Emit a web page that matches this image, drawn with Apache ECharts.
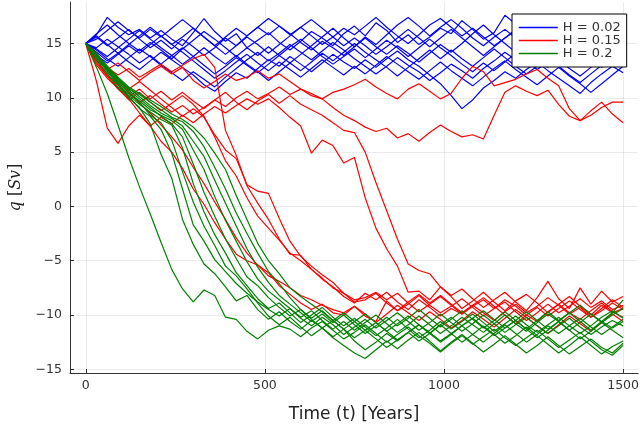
<!DOCTYPE html>
<html><head><meta charset="utf-8">
<script src="https://cdn.jsdelivr.net/npm/echarts@6/dist/echarts.min.js"></script>
<style>html,body{margin:0;padding:0;background:#fff}#c{width:642px;height:428px}</style>
</head><body><div id="c"></div>
<script>
const years = [0,30,60,90,120,150,180,210,240,270,300,330,360,390,420,450,480,510,540,570,600,630,660,690,720,750,780,810,840,870,900,930,960,990,1020,1050,1080,1110,1140,1170,1200,1230,1260,1290,1320,1350,1380,1410,1440,1470,1500];
const xTicks = [0,500,1000,1500];
const yTicks = [-15,-10,-5,0,5,10,15];
const seriesNames = ['H = 0.02','H = 0.15','H = 0.2'];

const blueRuns = [
 [15,15.8,17.4,16.5,15.8,16.3,15.5,16.2,15.4,14.8, 16.0,17.3,16.1,15.2,15.9,14.6,15.3,16.0,15.1,14.4, 15.2,16.1,15.5,14.8,15.9,16.6,15.7,16.9,16.2,15.1, 15.8,14.9,15.6,16.4,15.9,17.1,16.3,15.4,16.0,17.6, 16.8,15.9,16.5,15.6,14.8,15.5,16.2,15.3,14.7,15.4, 15.9],
 [15,14.2,13.4,14.1,13.3,12.6,13.4,14.2,13.5,12.8, 12.1,11.2,10.6,11.5,12.3,11.8,12.7,13.5,12.9,13.8, 13.1,12.4,13.2,14.0,13.3,12.7,13.5,12.8,13.6,14.3, 13.5,12.9,12.1,11.3,10.2,9.0,9.8,10.9,11.6,12.4, 11.8,12.6,13.3,12.5,11.8,11.1,10.4,11.4,12.2,12.9, 12.3],
 [15,15.6,14.8,15.5,16.3,15.4,14.6,15.3,14.5,15.4, 14.7,13.9,14.6,15.5,14.8,15.7,16.5,15.8,16.6,15.9, 15.1,14.4,15.2,14.6,13.9,14.7,15.6,14.9,15.8,16.7, 17.4,16.6,15.7,16.5,17.2,16.4,15.5,14.8,15.6,16.3, 15.5,14.7,15.4,14.6,15.3,14.5,13.8,14.6,15.5,14.9, 14.2],
 [15,14.4,13.6,12.9,13.7,14.5,13.8,13.0,12.3,11.6, 12.4,11.7,11.0,11.9,12.7,13.5,14.2,13.4,14.1,14.9, 14.2,13.5,14.3,15.1,14.4,13.6,12.9,12.2,12.9,13.7, 13.0,12.4,11.6,12.3,13.1,12.5,11.8,12.7,13.4,14.2, 13.5,14.3,13.6,12.8,13.5,12.7,12.0,12.8,13.6,12.9, 13.5],
 [15,15.9,16.7,15.8,15.0,14.3,15.1,14.4,13.6,14.5, 15.3,16.1,15.4,14.6,13.8,14.6,13.9,14.7,13.9,13.2, 14.0,14.8,15.6,16.4,15.5,14.7,15.5,14.7,14.0,14.8, 14.1,13.3,14.1,14.9,14.2,15.0,15.9,16.7,15.8,15.0, 14.2,14.9,15.7,16.5,15.7,14.9,15.6,16.4,15.6,14.8, 15.4],
 [15,14.6,15.4,14.7,14.0,13.2,13.9,13.1,13.9,14.6, 13.8,13.0,12.2,12.9,13.7,13.0,12.3,13.1,13.9,14.7, 15.4,14.6,13.8,13.1,13.8,14.5,13.7,14.5,15.3,14.6, 13.8,14.6,15.4,14.6,13.9,13.1,12.4,13.2,12.5,13.3, 14.1,13.4,12.6,13.3,14.1,13.4,14.2,13.5,12.8,13.6, 14.3],
 [15,15.4,16.2,17.0,16.2,15.5,16.3,15.6,16.4,17.2, 16.4,15.6,14.8,15.6,16.4,15.7,16.5,17.3,16.6,15.8, 16.5,15.7,14.9,15.6,16.4,15.8,16.6,17.4,16.5,15.7, 15.0,15.8,16.7,17.3,16.5,15.7,16.4,15.6,14.8,15.5, 16.3,17.1,16.3,15.4,16.2,17.0,16.2,15.5,16.2,15.5, 14.8],
 [15,13.9,13.2,14.0,14.8,14.1,14.9,15.7,14.9,14.2, 13.4,12.6,11.8,12.5,13.3,14.0,13.2,12.5,13.3,12.6, 11.9,12.7,13.5,12.8,12.1,12.9,12.2,13.0,13.8,13.1, 12.4,11.7,12.5,13.3,12.5,11.8,11.1,11.9,12.7,13.4, 12.6,11.9,11.2,12.0,12.8,12.0,11.3,10.5,11.3,12.1, 12.9],
 [15,15.7,14.9,14.1,14.9,15.7,16.5,15.7,14.9,15.6, 16.4,15.6,14.8,14.0,14.8,15.6,14.9,14.1,14.9,15.7, 16.5,17.2,16.4,15.6,14.8,15.5,14.8,14.0,14.7,15.5, 16.3,15.5,14.7,15.5,16.3,15.5,14.7,13.9,14.7,15.5, 16.2,15.4,14.6,15.4,14.6,13.9,14.6,15.4,14.6,13.8, 14.6],
 [15,14.5,13.8,14.6,15.4,16.2,15.4,14.6,13.9,13.1, 13.8,14.6,13.8,13.1,13.9,13.1,12.4,11.6,12.4,13.2, 12.5,13.3,14.1,13.4,14.2,15.0,14.2,13.5,12.8,12.0, 12.8,13.6,14.4,13.6,14.4,13.6,12.9,13.7,14.5,13.7, 12.9,12.2,12.9,13.7,12.9,12.1,11.4,12.2,13.0,14.9, 16.0]
];

const redRuns = [
 [15,13.8,12.6,13.2,12.4,11.6,12.3,12.9,12.2,12.8, 11.6,10.9,11.5,12.2,11.6,11.9,12.5,11.8,12.2,11.5, 10.8,10.4,9.9,10.5,10.8,11.2,11.7,11.0,10.4,9.9, 10.8,11.3,10.6,9.9,10.4,11.8,12.9,12.4,11.1,11.4, 11.7,12.2,12.6,11.8,11.1,9.0,7.9,8.4,9.1,9.6, 9.6],
 [15,13.5,12.2,11.0,10.4,9.6,10.2,9.4,8.7,9.3, 8.5,9.1,9.8,9.2,10.0,10.6,9.9,10.4,11.0,10.3, 10.8,10.2,9.9,9.1,8.4,7.9,7.3,6.9,7.2,6.3, 6.7,6.0,6.8,7.5,6.9,6.4,6.6,6.2,8.4,10.5, 11.1,10.6,10.2,10.7,9.4,8.3,7.9,8.8,9.6,8.5, 7.7],
 [15,11.5,7.2,5.8,7.4,8.4,7.4,8.2,7.6,8.4, 7.7,8.5,9.2,8.6,9.3,9.9,9.4,9.9,9.1,8.2, 7.4,4.9,6.1,5.6,4.0,4.5,0.8,-2.0,-3.9,-5.5, -7.9,-7.8,-8.6,-7.4,-8.3,-9.4,-8.7,-7.9,-8.8,-9.6, -8.7,-8.1,-8.9,-9.8,-9.0,-8.3,-9.2,-10.0,-9.1,-9.8, -9.4],
 [15,13.2,12.0,11.3,10.1,10.8,9.9,10.6,9.8,10.5, 9.7,9.0,9.8,10.5,9.6,8.9,9.7,10.3,9.5,10.2, 9.4,8.9,8.4,7.7,7.0,6.8,5.0,2.2,-0.4,-3.0, -5.3,-5.9,-6.2,-7.4,-8.2,-7.6,-8.5,-9.3,-8.6,-7.9, -8.8,-9.6,-8.4,-6.9,-8.5,-9.4,-7.5,-9.0,-7.8,-8.8, -8.3],
 [15,13.4,12.0,10.8,9.9,8.6,7.4,6.0,5.0,3.5, 1.6,0.2,-1.5,-3.0,-4.4,-5.0,-5.4,-6.4,-6.9,-7.5, -8.2,-8.6,-9.1,-9.5,-9.8,-9.2,-10.1,-10.6,-8.7,-9.6, -9.0,-8.2,-9.1,-9.8,-9.2,-8.5,-9.3,-10.1,-9.4,-8.6, -9.2,-10.0,-10.6,-9.7,-9.0,-9.8,-10.4,-9.6,-8.9,-9.7, -10.2],
 [15,14.1,12.8,12.1,12.7,11.9,12.5,13.1,12.4,13.0, 13.6,14.0,12.8,7.0,4.7,1.9,0.3,-1.2,-3.0,-4.4, -4.5,-5.8,-6.7,-7.4,-8.3,-8.9,-8.0,-8.6,-7.9,-8.8, -9.5,-8.6,-9.3,-10.1,-9.4,-9.9,-9.1,-9.8,-10.5,-9.7, -9.0,-9.8,-9.2,-8.4,-9.1,-9.9,-9.3,-10.2,-9.6,-8.9, -9.5],
 [15,13.0,11.8,10.9,9.8,10.5,9.6,8.8,9.5,10.2, 9.4,8.3,6.4,4.2,2.8,0.8,-0.9,-2.0,-3.1,-4.3, -5.0,-5.8,-6.6,-7.5,-8.0,-8.8,-8.6,-8.0,-8.9,-9.6, -8.8,-8.1,-8.9,-8.2,-9.0,-9.8,-9.1,-8.4,-9.2,-10.0, -10.8,-10.0,-9.3,-10.1,-9.4,-8.7,-9.5,-10.2,-9.4,-8.6, -9.3],
 [15,14.0,12.9,11.6,10.8,11.5,10.7,9.9,9.1,8.3, 9.0,8.2,6.6,5.2,4.4,2.0,1.4,1.2,-1.1,-3.2, -4.6,-5.5,-6.3,-7.0,-8.0,-8.6,-8.4,-7.9,-8.6,-8.0, -8.9,-9.7,-9.0,-8.3,-9.1,-9.9,-9.2,-8.6,-9.4,-8.8, -9.7,-10.5,-9.8,-9.0,-9.8,-9.2,-8.5,-9.3,-8.7,-9.5, -9.1],
 [15,13.8,12.5,11.4,10.6,9.5,8.6,7.5,6.4,5.2, 3.6,2.1,0.4,-1.2,-2.9,-4.3,-5.4,-6.1,-7.3,-8.1, -8.9,-9.5,-9.0,-9.8,-10.0,-9.2,-9.9,-10.7,-9.9,-9.1, -9.8,-10.5,-9.7,-10.4,-11.2,-10.5,-9.7,-10.4,-11.1,-10.3, -9.5,-10.2,-11.0,-11.7,-10.9,-10.1,-10.8,-11.5,-10.7,-9.9, -10.6]
];

const greenRuns = [
 [15,12.8,10.4,7.5,4.5,1.8,-0.7,-3.3,-5.8,-7.6, -8.8,-7.7,-8.2,-10.2,-10.4,-11.5,-12.2,-11.4,-11.0,-11.3, -12.0,-11.2,-10.6,-11.4,-12.2,-11.6,-10.9,-11.7,-12.5,-11.8, -11.1,-11.9,-12.6,-13.4,-12.6,-11.9,-12.7,-12.0,-11.3,-12.1, -12.8,-12.1,-11.4,-12.2,-13.0,-12.3,-11.6,-12.4,-13.2,-13.7, -12.8],
 [15,13.8,12.4,11.2,10.0,9.1,7.6,4.8,2.6,-1.2, -3.5,-5.3,-6.2,-7.4,-8.7,-8.2,-9.5,-10.4,-9.7,-10.6, -11.3,-10.5,-11.2,-12.0,-11.3,-12.4,-13.2,-12.5,-11.7,-12.4, -11.6,-10.9,-11.7,-12.5,-11.8,-11.0,-10.3,-11.1,-11.9,-11.2, -10.5,-11.3,-12.1,-11.4,-10.6,-11.4,-12.2,-11.5,-10.7,-11.4, -12.1],
 [15,13.5,12.2,10.9,10.1,9.0,8.3,7.1,4.9,1.6, -1.7,-3.2,-4.9,-6.0,-7.1,-8.0,-8.8,-9.5,-10.1,-9.4, -10.3,-11.0,-10.2,-10.9,-11.8,-11.1,-10.4,-11.2,-10.5,-9.8, -10.6,-11.4,-10.7,-9.9,-10.7,-11.5,-10.8,-10.0,-10.8,-11.6, -10.9,-10.2,-11.0,-11.7,-11.0,-10.3,-11.1,-11.8,-11.1,-10.5, -11.0],
 [15,14.1,12.7,11.5,10.4,9.6,8.4,7.7,6.1,3.2, 0.4,-1.8,-3.6,-5.5,-6.4,-7.6,-8.9,-10.1,-10.9,-10.2, -11.1,-11.9,-11.2,-12.1,-12.8,-13.5,-14.0,-13.2,-12.4,-13.1, -12.3,-11.6,-12.4,-13.3,-12.5,-11.8,-12.6,-13.4,-12.7,-11.9, -12.7,-13.5,-12.8,-12.0,-12.8,-13.6,-12.9,-12.2,-13.0,-13.5, -12.6],
 [15,13.6,12.5,11.3,10.2,9.4,8.7,8.0,7.5,5.4, 2.1,-0.5,-2.6,-4.3,-6.1,-7.3,-8.5,-9.4,-8.9,-9.8, -10.7,-10.0,-9.3,-10.2,-11.0,-10.3,-11.1,-11.9,-11.2,-10.4, -11.3,-12.1,-11.4,-10.6,-11.3,-10.6,-9.9,-10.7,-11.5,-10.8, -10.1,-10.9,-11.6,-10.9,-10.2,-11.0,-11.7,-11.0,-10.2,-9.6, -10.3],
 [15,13.9,12.8,11.6,10.7,9.9,9.1,8.3,7.6,6.4, 3.9,1.3,-0.9,-3.0,-4.8,-6.5,-7.3,-8.4,-9.3,-10.1, -9.5,-10.4,-11.2,-10.5,-11.3,-12.1,-11.4,-12.2,-13.0,-12.3, -11.6,-12.4,-11.7,-10.9,-11.7,-12.5,-11.8,-11.0,-11.8,-12.6, -11.9,-11.1,-11.9,-12.7,-13.5,-12.8,-12.0,-12.8,-13.6,-12.9, -12.4],
 [15,13.7,12.6,11.4,10.5,9.7,8.9,8.4,7.9,7.1, 5.2,3.4,0.9,-1.3,-3.2,-5.1,-6.7,-7.8,-8.6,-9.4, -10.2,-9.6,-10.5,-11.3,-10.6,-11.4,-10.7,-10.0,-10.8,-11.6, -10.9,-10.1,-10.9,-11.7,-11.0,-10.2,-10.9,-11.6,-10.8,-10.0, -10.8,-11.5,-10.7,-9.9,-10.6,-11.4,-10.7,-9.9,-10.6,-11.2, -10.6],
 [15,14.0,12.9,11.8,10.9,10.1,9.3,8.6,8.1,7.4, 6.0,4.6,2.4,0.3,-1.8,-3.9,-5.6,-7.0,-8.2,-9.0, -9.8,-10.6,-9.9,-10.7,-10.0,-10.9,-11.7,-11.0,-10.2,-11.0, -10.3,-9.5,-10.3,-11.1,-10.4,-9.6,-10.4,-11.2,-10.5,-9.7, -10.5,-11.3,-10.5,-9.7,-10.5,-9.8,-9.1,-9.9,-10.7,-10.0, -9.4],
 [15,13.8,12.7,11.7,10.8,10.3,9.6,8.9,8.2,7.8, 6.9,5.5,3.6,1.6,-0.6,-2.5,-4.3,-6.0,-7.1,-8.4, -9.5,-10.3,-9.6,-10.5,-11.3,-10.6,-9.9,-10.7,-11.5,-10.8, -10.1,-10.9,-11.7,-10.9,-10.2,-11.0,-10.3,-9.6,-10.4,-11.2, -10.5,-9.7,-10.5,-11.3,-10.6,-9.8,-10.6,-11.4,-10.6,-9.8, -8.6],
 [15,13.9,12.9,11.9,11.0,10.4,9.8,9.2,8.5,8.0, 7.3,6.3,4.9,3.4,1.0,-1.2,-3.4,-5.0,-6.2,-7.5, -8.3,-9.0,-9.7,-10.5,-9.8,-10.6,-11.4,-10.7,-11.5,-12.3, -11.6,-10.9,-11.6,-12.4,-11.7,-11.0,-11.8,-12.5,-11.7,-10.9, -11.7,-12.5,-11.8,-11.0,-11.7,-11.0,-10.3,-11.1,-11.8,-11.1, -10.4]
];

const groups = [
  {name: seriesNames[0], color: '#0000ff', runs: blueRuns},
  {name: seriesNames[1], color: '#ff0000', runs: redRuns},
  {name: seriesNames[2], color: '#008000', runs: greenRuns}
];
const bad = [];
groups.forEach(g => g.runs.forEach((r, k) => { if (r.length !== years.length) bad.push(g.name + '#' + k + ':' + r.length); }));
if (bad.length) throw new Error('length mismatch ' + bad.join(', '));

const series = [];
groups.forEach(g => g.runs.forEach(r => series.push({
  name: g.name, type: 'line', symbol: 'none', showSymbol: false,
  color: g.color, lineStyle: {color: g.color, width: 1.2},
  data: years.map((t, i) => [t, r[i]]), animation: false, silent: true
})));

const fmt = v => String(v).replace('-', '\u2212');
const chart = echarts.init(document.getElementById('c'), null, {renderer: 'canvas'});
chart.setOption({
  animation: false,
  backgroundColor: '#fff',
  grid: {left: 69, right: 0, top: 2, bottom: 50, containLabel: false},
  legend: {
    data: seriesNames, left: 512, top: 14, orient: 'vertical',
    backgroundColor: '#fff', borderColor: '#000', borderWidth: 1, borderRadius: 0,
    padding: [7, 6, 7, 6], itemGap: 0, itemWidth: 39, itemHeight: 14,
    itemStyle: {opacity: 0},
    lineStyle: {width: 1.6, opacity: 1},
    textStyle: {fontFamily: 'DejaVu Sans', fontSize: 13, color: '#333'}
  },
  xAxis: {
    type: 'value', min: -44, max: 1542,
    name: 'Time (t) [Years]', nameLocation: 'middle', nameGap: 33,
    nameTextStyle: {fontFamily: 'DejaVu Sans', fontSize: 17, color: '#222'},
    axisLine: {show: true, onZero: false, lineStyle: {color: '#333', width: 1}},
    axisTick: {show: true, inside: true, length: 4, customValues: xTicks, lineStyle: {color: '#333'}},
    axisLabel: {customValues: xTicks, formatter: fmt, fontFamily: 'DejaVu Sans', fontSize: 12.5, color: '#333', margin: 6},
    splitLine: {show: true, lineStyle: {color: 'rgba(0,0,0,0.08)', width: 1}}
  },
  yAxis: {
    type: 'value', min: -15.34, max: 18.82,
    name: '{i|q} [{i|Sv}]', nameLocation: 'middle', nameGap: 46,
    nameTextStyle: {fontFamily: 'DejaVu Serif', fontSize: 16, color: '#222',
      rich: {i: {fontFamily: 'DejaVu Serif', fontStyle: 'italic', fontSize: 16, color: '#222'}}},
    axisLine: {show: true, onZero: false, lineStyle: {color: '#333', width: 1}},
    axisTick: {show: true, inside: true, length: 4, customValues: yTicks, lineStyle: {color: '#333'}},
    axisLabel: {customValues: yTicks, formatter: fmt, fontFamily: 'DejaVu Sans', fontSize: 12.5, color: '#333', margin: 8},
    splitLine: {show: true, lineStyle: {color: 'rgba(0,0,0,0.08)', width: 1}}
  },
  series: series
});
</script></body></html>
